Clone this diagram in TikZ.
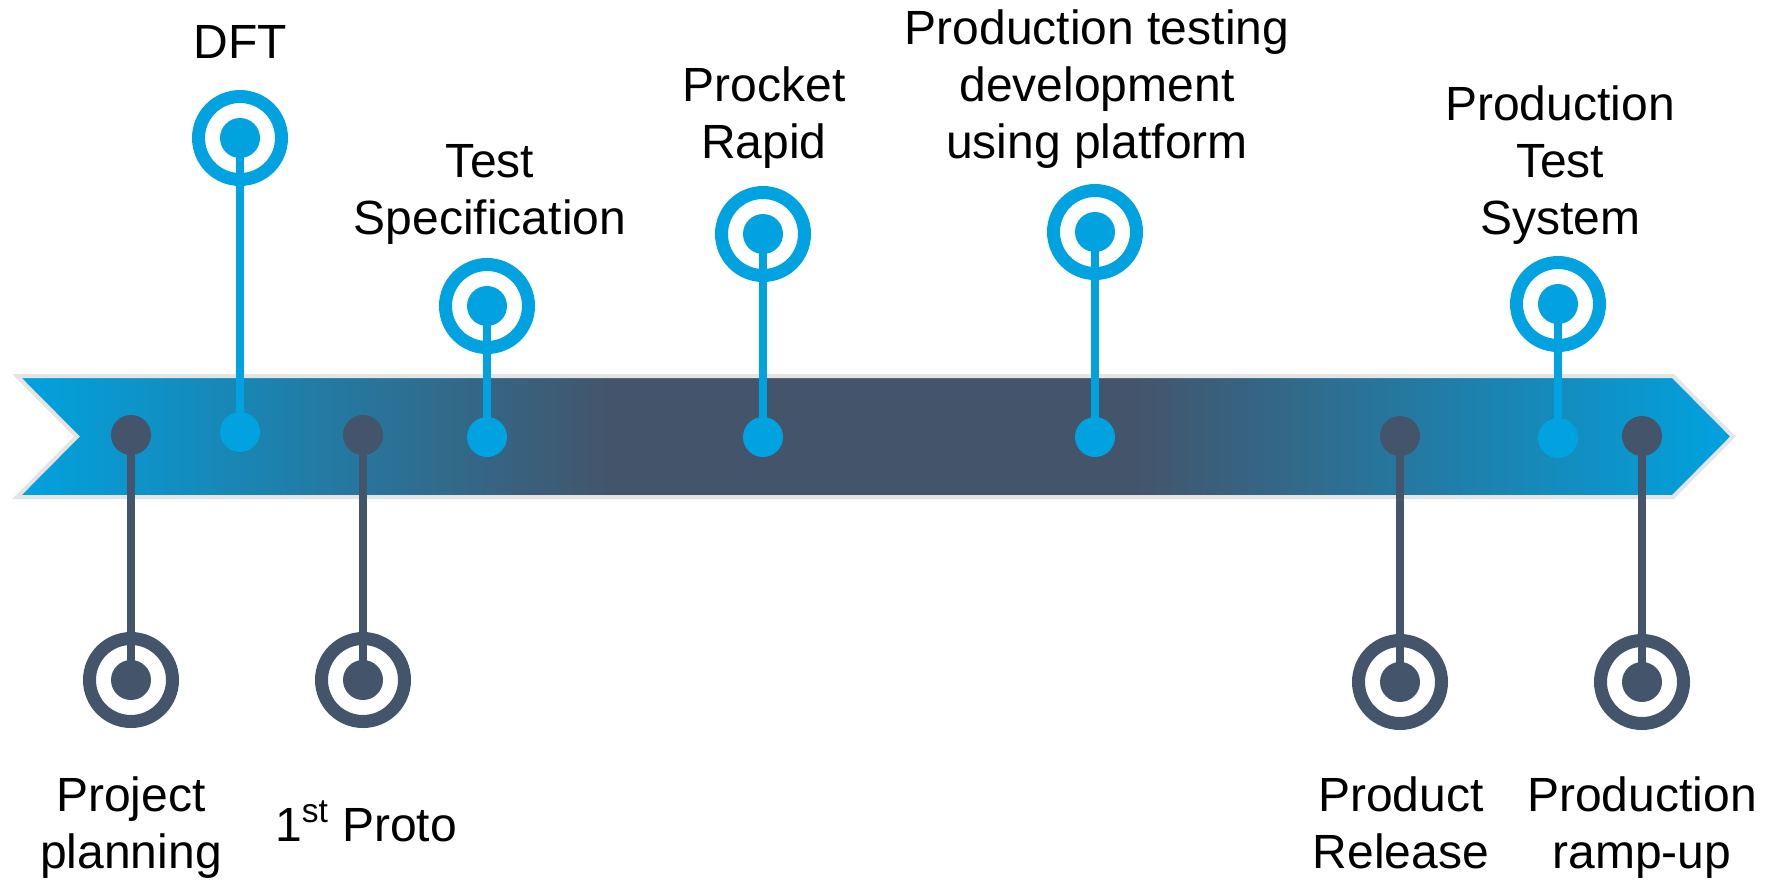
\documentclass[tikz,border=0pt]{standalone}
\usepackage{fontspec}
\setmainfont{Liberation Sans}
\definecolor{mblue}{RGB}{0,163,224}
\definecolor{mdark}{RGB}{68,84,106}
\definecolor{bandedge}{RGB}{228,228,228}
\pgfdeclarehorizontalshading{bandshade}{100bp}{color(0bp)=(mblue); color(25bp)=(mblue); color(42.4bp)=(mdark); color(57.4bp)=(mdark); color(75bp)=(mblue); color(100bp)=(mblue)}
\begin{document}
\begin{tikzpicture}[x=0.5pt,y=-0.5pt,
  stem/.style={line width=4pt},
  bdot/.style={circle,fill,inner sep=0pt,minimum size=20pt},
  ring/.style={circle,draw,line width=6.5pt,inner sep=0pt,minimum size=41.5pt},
  idot/.style={circle,fill,inner sep=0pt,minimum size=20pt},
  lbl/.style={align=center,anchor=base,inner sep=0pt,font=\fontsize{24}{28.5}\selectfont}]
\useasboundingbox (0,0) rectangle (1767,880);
% band
\shadedraw[shading=bandshade,draw=bandedge,line width=2pt,line join=miter]
  (17,376) -- (1673,376) -- (1733,436.5) -- (1673,497) -- (17,497) -- (77,436.5) -- cycle;
% positions
\coordinate (b1) at (131,435); \coordinate (r1) at (131,680);
\coordinate (b2) at (240,432); \coordinate (r2) at (240,138);
\coordinate (b3) at (363,435); \coordinate (r3) at (363,680);
\coordinate (b4) at (487,437); \coordinate (r4) at (487,306);
\coordinate (b5) at (763,437); \coordinate (r5) at (763,234);
\coordinate (b6) at (1095,437); \coordinate (r6) at (1095,232);
\coordinate (b7) at (1400,436); \coordinate (r7) at (1400,682);
\coordinate (b8) at (1558,438); \coordinate (r8) at (1558,304);
\coordinate (b9) at (1642,436); \coordinate (r9) at (1642,682);
% stems
\foreach \i in {1,3,7,9} \draw[stem,mdark] (b\i) -- (r\i);
\foreach \i in {2,4,5,6,8} \draw[stem,mblue] (b\i) -- (r\i);
% dots and rings
\foreach \i in {1,3,7,9} {
  \node[bdot,mdark] (bd\i) at (b\i) {};
  \node[ring,mdark] (rg\i) at (r\i) {};
  \node[idot,mdark] (id\i) at (r\i) {};
}
\foreach \i in {2,4,5,6,8} {
  \node[bdot,mblue] (bd\i) at (b\i) {};
  \node[ring,mblue] (rg\i) at (r\i) {};
  \node[idot,mblue] (id\i) at (r\i) {};
}
% labels (anchor = baseline of last line)
\node[lbl] (t2) at (240,58) {DFT};
\node[lbl] (t4) at (490,234) {Test\\Specification};
\node[lbl] (t5) at (764,158) {Procket\\Rapid};
\node[lbl] (t6) at (1097,158) {Production testing\\development\\using platform};
\node[lbl] (t8) at (1560,234) {Production\\Test\\System};
\node[lbl] (t1) at (131,868) {Project\\planning};
\node[lbl] (t3) at (366,841) {1\textsuperscript{st} Proto};
\node[lbl] (t7) at (1401,868) {Product\\Release};
\node[lbl] (t9) at (1642,868) {Production\\ramp-up};
\end{tikzpicture}
\end{document}
